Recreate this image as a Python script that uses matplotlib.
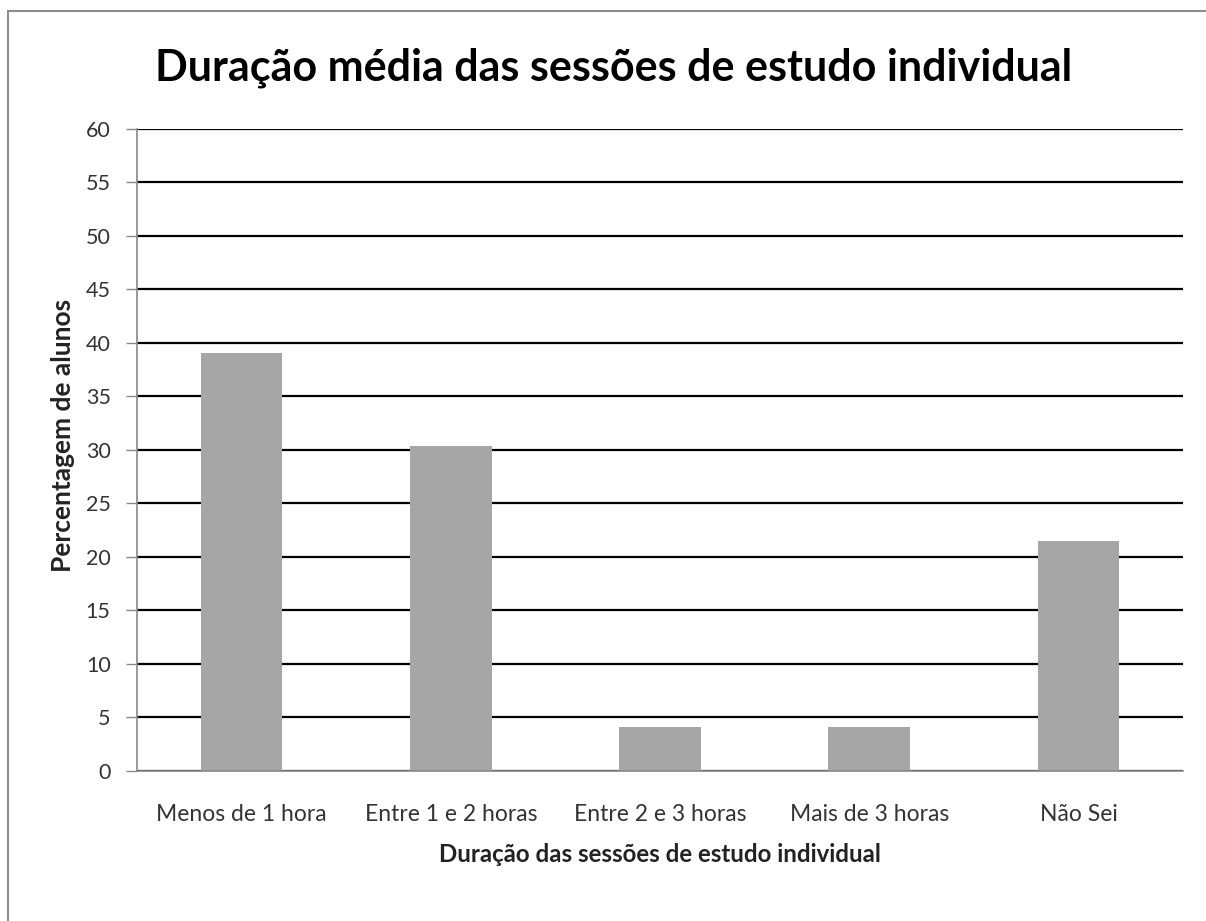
import matplotlib.pyplot as plt
import numpy as np
from matplotlib.patches import Rectangle

plt.rcParams["font.family"] = ["Lato", "DejaVu Sans"]

categories = ["Menos de 1 hora", "Entre 1 e 2 horas", "Entre 2 e 3 horas",
              "Mais de 3 horas", "Não Sei"]
percentages = [39.1, 30.4, 4.1, 4.1, 21.5]
y_ticks = list(range(0, 61, 5))

fig = plt.figure(figsize=(12.06, 9.21), dpi=100)
ax = fig.add_axes([0.1136, 0.1629, 0.8674, 0.6971])

# thin frame round the chart area
fig.patches.append(Rectangle((0.007, -0.05), 1.1, 1.038, transform=fig.transFigure,
                             fill=False, edgecolor="#8c8c8c", linewidth=1.5))

x = np.arange(len(categories))
ax.bar(x, percentages, width=0.39, color="#a6a6a6", zorder=3)

ax.set_xlim(-0.5, len(categories) - 0.5)
ax.set_ylim(0, 60)
ax.set_yticks(y_ticks)
ax.yaxis.grid(True, color="black", linewidth=1.6, zorder=0)
ax.set_axisbelow(True)

ax.set_xticks(x)
ax.set_xticklabels(categories)
ax.tick_params(axis="x", length=0, pad=24, labelsize=16.5, labelcolor="#333333")
ax.tick_params(axis="y", length=8, width=1, color="#888888", pad=11,
               labelsize=15.5, labelcolor="#333333")

for side in ["top", "right"]:
    ax.spines[side].set_visible(False)
for side in ["left", "bottom"]:
    ax.spines[side].set_color("#888888")
    ax.spines[side].set_linewidth(1.2)
    ax.spines[side].set_zorder(4)

ax.set_xlabel("Duração das sessões de estudo individual", fontsize=17.3,
              fontweight="bold", color="#222222", labelpad=13)
ax.set_ylabel("Percentagem de alunos", fontsize=19, fontweight="bold",
              color="#222222")
ax.yaxis.set_label_coords(-0.059, 0.523)

fig.text(0.509, 0.926, "Duração média das sessões de estudo individual",
         ha="center", va="center", fontsize=31, fontweight="bold", color="black")

fig.savefig("out.png", dpi=100, facecolor="white")
